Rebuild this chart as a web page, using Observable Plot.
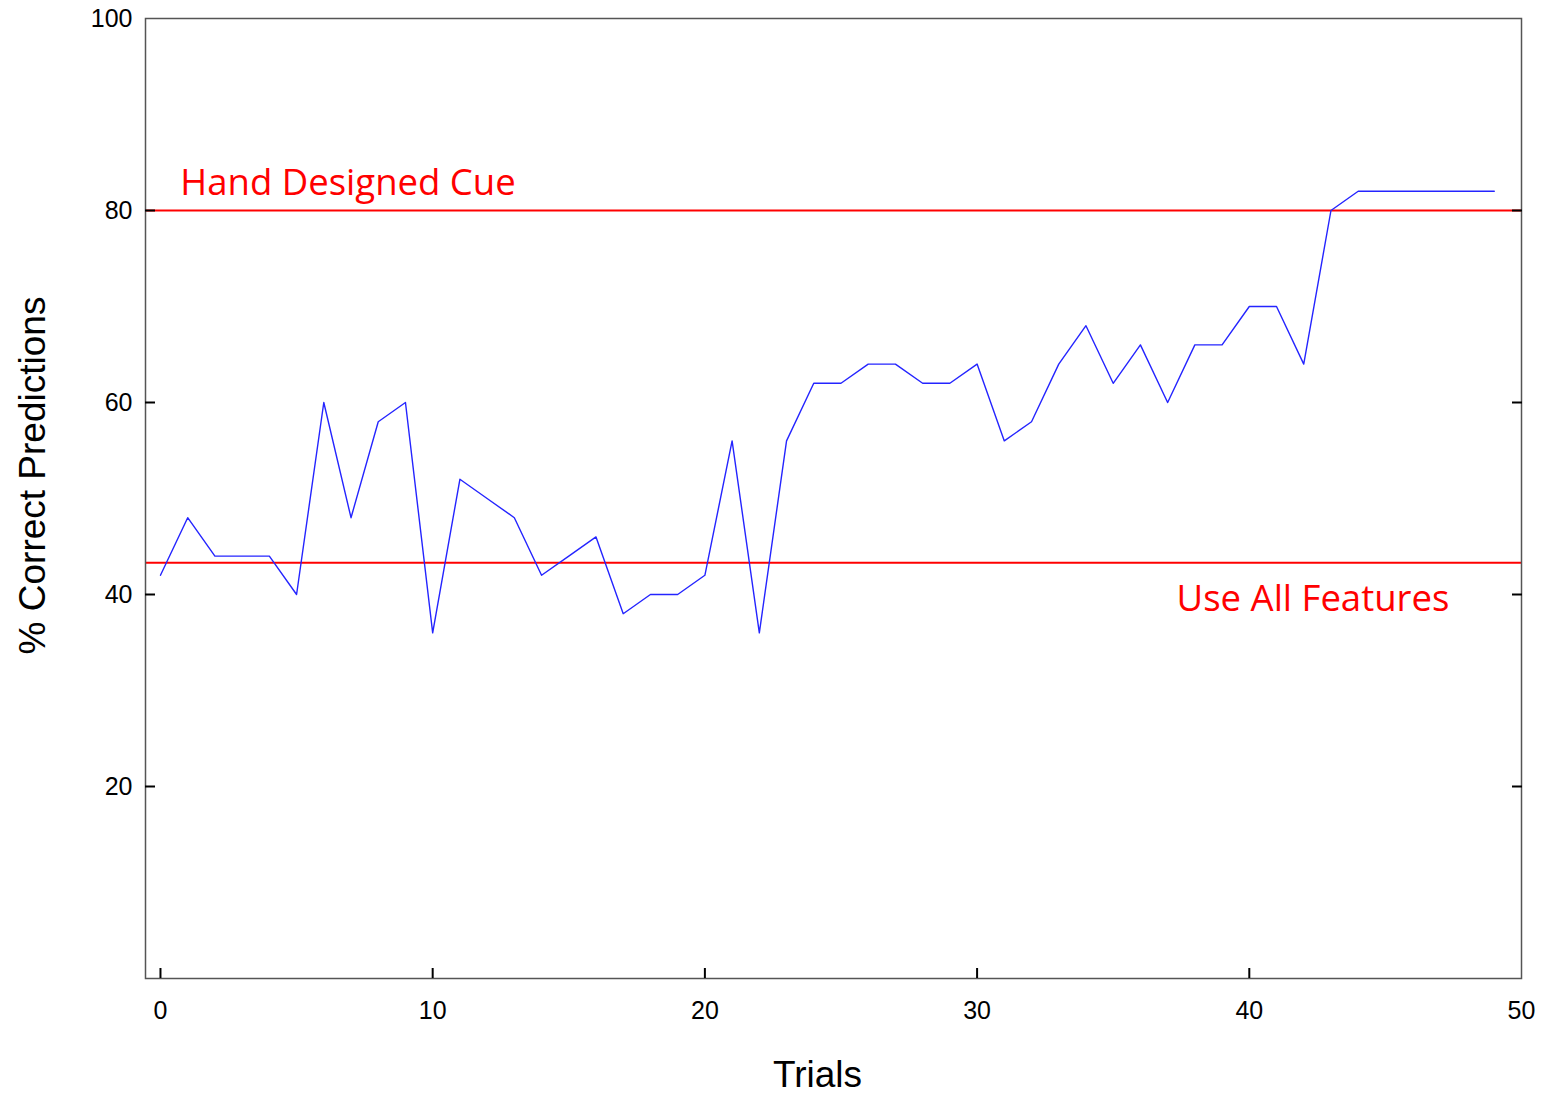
<!DOCTYPE html>
<html>
<head>
<meta charset="utf-8">
<script src="https://cdn.jsdelivr.net/npm/d3@7"></script>
<script src="https://cdn.jsdelivr.net/npm/@observablehq/plot@0.6"></script>
<style>
  html, body { margin: 0; padding: 0; background: white; }
</style>
</head>
<body>
<div id="chart"></div>
<script>
const trialIndex = [0,1,2,3,4,5,6,7,8,9,10,11,12,13,14,15,16,17,18,19,20,21,22,23,24,25,26,27,28,29,30,31,32,33,34,35,36,37,38,39,40,41,42,43,44,45,46,47,48,49];
const pctCorrect = [42,48,44,44,44,40,60,48,58,60,36,52,50,48,42,44,46,38,40,40,42,56,36,56,62,62,64,64,62,62,64,56,58,64,68,62,66,60,66,66,70,70,64,80,82,82,82,82,82,82];

const refNames = ["Hand Designed Cue", "Use All Features"];
const refValues = [80, 43.3];
const refLabelX = [0.73, 47.35];

const xTickLabels = [0,10,20,30,40,50];
const xTickMarks = [0,10,20,30,40];
const yTickLabels = [20,40,60,80,100];
const yTickMarks = [20,40,60,80];

const data = trialIndex.map((t, i) => ({trial: t, pct: pctCorrect[i]}));
const refs = refNames.map((n, i) => ({name: n, value: refValues[i], lx: refLabelX[i]}));

const chart = Plot.plot({
  width: 1542,
  height: 1094,
  marginLeft: 145,
  marginRight: 21,
  marginTop: 18,
  marginBottom: 116,
  x: {domain: [-0.55, 50], label: null},
  y: {domain: [0, 100], label: null},
  style: {fontFamily: "'Liberation Sans', Arial, sans-serif", fontSize: "25px", color: "black", background: "white"},
  marks: [
    Plot.ruleY(refs, {y: "value", stroke: "#ff0000", strokeWidth: 2}),
    Plot.line(data, {x: "trial", y: "pct", stroke: "#2424ff", strokeWidth: 1.4}),
    Plot.frame({stroke: "#555", strokeWidth: 1.5}),
    Plot.axisX(xTickLabels, {tickSize: 0, tickPadding: 23, fontSize: 25, label: null}),
    Plot.axisX(xTickMarks, {tickSize: -10, tickFormat: () => "", strokeWidth: 2, label: null}),
    Plot.axisY(yTickLabels, {tickSize: 0, tickPadding: 13, fontSize: 25, label: null}),
    Plot.axisY(yTickMarks, {tickSize: -10, tickFormat: () => "", strokeWidth: 2, label: null}),
    Plot.axisY(yTickMarks, {anchor: "right", tickSize: -10, tickFormat: () => "", strokeWidth: 2, label: null}),
    Plot.text(refs.slice(0, 1), {x: "lx", y: "value", text: "name", dy: -27, textAnchor: "start", lineAnchor: "middle", fill: "#ff0000", fontSize: 36.5, fontFamily: "'Open Sans', sans-serif"}),
    Plot.text(refs.slice(1, 2), {x: "lx", y: "value", text: "name", dy: 36, textAnchor: "end", lineAnchor: "middle", fill: "#ff0000", fontSize: 36.5, fontFamily: "'Open Sans', sans-serif"}),
    Plot.text(["% Correct Predictions"], {frameAnchor: "left", dx: -112, dy: -23, rotate: -90, textAnchor: "middle", lineAnchor: "middle", fontSize: 37, fill: "black"}),
    Plot.text(["Trials"], {frameAnchor: "bottom", dx: -16, dy: 97, textAnchor: "middle", lineAnchor: "middle", fontSize: 37, fill: "black"})
  ]
});
document.getElementById("chart").appendChild(chart);
</script>
</body>
</html>
